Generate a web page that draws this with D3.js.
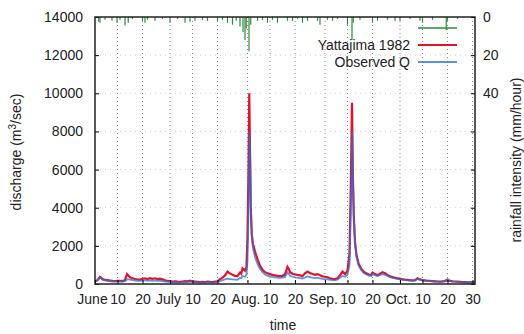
<!DOCTYPE html>
<html>
  <head>
    <meta charset="utf-8" />
    <title>Yattajima 1982</title>
    <script src="https://d3js.org/d3.v7.min.js"></script>
    <style>
      body { margin: 0; background: #fff; }
      text { font-family: "Liberation Sans", Arial, sans-serif; fill: #222; }
    </style>
  </head>
  <body>
    <svg id="chart" width="524" height="334"></svg>
    <script>

        // day offsets are counted from June 1, 1982
        var simDays = [0,1,2,2.5,3,4,5,6,7,8,9,10,11,12,12.8,13.5,14,15,16,17,18,19,20,21,22,23,24,25,26,27,28,29,30,31,32,33,34,35,36,37,38,39,40,41,42,43,44,45,46,47,48,49,50,51,52,53,54,55,56,57,58,58.5,59,60,60.6,61,61.4,61.7,62,62.3,62.7,63.2,64,65,66,67,68,69,70,71,72,73,74,75,76,77,77.6,78,79,80,81,82,83,84,85,86,87,88,89,90,91,92,93,94,95,96,97,98,99,100,101,101.8,102.3,102.8,103.1,103.5,104,104.6,105.5,106.5,107.5,108.5,109.5,110.5,111,112,113,114,115,116,117,118,119,120,121,122,123,124,125,126,127,128,129,130,131,132,133,134,135,136,137,138,139,140,141,142,143,144,145,146,147,148,149,150,151,152];
        var simQ = [150,200,380,330,260,220,200,180,160,150,170,160,150,200,520,420,350,300,260,240,230,270,300,260,310,270,300,260,280,240,200,160,150,130,140,120,110,130,150,140,170,130,120,110,100,110,100,130,110,100,120,140,260,330,450,650,560,480,430,420,600,540,820,700,900,2500,6000,10000,7000,4000,2600,2100,1700,1300,950,750,620,560,520,480,450,430,420,430,500,900,780,620,540,500,480,450,420,560,650,580,520,480,520,460,400,380,350,300,270,260,300,450,650,520,700,1600,5000,9500,6000,3600,2200,1500,1050,800,650,560,500,480,600,520,460,540,620,560,470,400,360,330,300,270,250,230,220,200,190,200,300,240,210,190,170,160,150,140,130,120,140,150,200,160,140,130,120,110,100,100,90,90,100,90];

        var obsDays = [0,1,2,2.5,3,4,5,6,7,8,9,10,11,12,13,14,15,16,17,18,19,20,21,22,23,24,25,26,27,28,29,30,31,32,33,34,35,36,37,38,39,40,41,42,43,44,45,46,47,48,49,50,51,52,53,54,55,56,57,58,58.5,59,60,60.6,61,61.4,61.8,62.1,62.4,62.8,63.3,64,65,66,67,68,69,70,71,72,73,74,75,76,77,77.6,78,79,80,81,82,83,84,85,86,87,88,89,90,91,92,93,94,95,96,97,98,99,100,101,101.8,102.4,102.9,103.2,103.6,104.1,104.7,105.5,106.5,107.5,108.5,109.5,110.5,111,112,113,114,115,116,117,118,119,120,121,122,123,124,125,126,127,128,129,130,131,132,133,134,135,136,137,138,139,140,141,142,143,144,145,146,147,148,149,150,151,152];
        var obsQ = [150,180,350,300,220,190,170,150,130,120,140,130,120,150,250,230,200,180,170,160,180,200,170,190,170,190,160,170,150,130,120,110,100,100,90,90,100,110,100,120,100,90,80,80,90,80,100,90,80,90,100,150,200,240,280,260,240,230,220,320,300,420,380,500,1200,4000,8000,6500,3800,2300,1800,1400,1050,800,620,500,440,400,370,350,330,320,330,370,600,520,430,380,350,330,310,290,340,400,360,330,310,330,300,270,250,240,220,200,200,230,330,420,380,480,1000,4200,8000,5600,3300,2000,1350,950,720,580,500,440,420,520,460,420,480,520,480,420,360,320,290,260,240,220,200,190,180,170,180,260,210,190,170,160,150,140,130,120,110,130,180,260,170,140,120,110,100,90,90,80,80,90,80];

        var rainDays = [1.5,2,4,6.8,8.8,10,12,13.3,15,19,20,21,24,27,30,33,36,38,40,43,45,49,51,53,55,56.5,58,59.2,60,60.5,61.6,62.3,65,67,69,71,73,77,79,81,83,85,89,90,93,95,97,101,102.8,103.3,106,111,113,117,120,122,126,130,131,135,140.5,141,145];
        var rainMm = [2.5,3,1.5,2,3,1.5,4.5,3,1,2,3,1.5,2,1,3,1,3,2.5,2,1.5,2,2,1.5,3,4,2,5,8,12,6,18,4,2,1.5,3,1.5,3,2,2,1,3,2,2,4,1.5,2,1,4,12,3,1.5,3,2,1.5,2,2,1,2,3,1.5,7,2,1];

        var qTicks = [0,2000,4000,6000,8000,10000,12000,14000];
        var rainTicks = [0,20,40,60,80,100,120,140];
        var rainLabels = [0,20,40];
        var timeTicks = [[5,1],[5,10],[5,20],[6,1],[6,10],[6,20],[7,1],[7,10],[7,20],[8,1],[8,10],[8,20],[9,1],[9,10],[9,20],[9,30]];
        var timeLabels = ["June","10","20","July","10","20","Aug.","10","20","Sep.","10","20","Oct.","10","20","30"];

        var legendNames = ["", "Yattajima 1982", "Observed Q"];
        var legendColors = ["#2e8b3a", "#e3122a", "#2a6fd6"];

        var plotLeft = 95, plotRight = 475, plotTop = 17, plotBottom = 284;
        var t0 = new Date(1982, 5, 1);
        function dayToDate(d) { return new Date(t0.getTime() + d * 86400000); }

        var svg = d3.select("#chart");

        var x = d3.scaleTime()
            .domain([t0, dayToDate(152)])
            .range([plotLeft, plotRight]);
        var y = d3.scaleLinear().domain([0, 14000]).range([plotBottom, plotTop]);
        var y2 = d3.scaleLinear().domain([0, 140]).range([plotTop, plotBottom]);

        var tickDates = timeTicks.map(function(t) { return new Date(1982, t[0], t[1]); });

        // grid
        svg.append("g").selectAll("line")
          .data(tickDates.slice(1))
          .enter().append("line")
            .attr("x1", function(d) { return x(d); })
            .attr("x2", function(d) { return x(d); })
            .attr("y1", plotTop).attr("y2", plotBottom)
            .attr("stroke", "#888")
            .attr("stroke-dasharray", "1,3");
        svg.append("g").selectAll("line")
          .data(qTicks.slice(1, -1))
          .enter().append("line")
            .attr("x1", plotLeft).attr("x2", plotRight)
            .attr("y1", function(d) { return y(d); })
            .attr("y2", function(d) { return y(d); })
            .attr("stroke", "#ccc")
            .attr("stroke-dasharray", "1,4");

        // rainfall impulses hanging from the top
        svg.append("g").selectAll("line")
          .data(rainDays)
          .enter().append("line")
            .attr("x1", function(d) { return x(dayToDate(d)); })
            .attr("x2", function(d) { return x(dayToDate(d)); })
            .attr("y1", y2(0))
            .attr("y2", function(d, i) { return y2(rainMm[i]); })
            .attr("stroke", legendColors[0])
            .attr("stroke-width", 1.2);

        var line = d3.line()
            .x(function(d) { return x(dayToDate(d[0])); })
            .y(function(d) { return y(d[1]); });

        svg.append("path")
            .datum(d3.zip(simDays, simQ))
            .attr("d", line)
            .attr("fill", "none")
            .attr("stroke", legendColors[1])
            .attr("stroke-width", 2.2);

        svg.append("path")
            .datum(d3.zip(obsDays, obsQ))
            .attr("d", line)
            .attr("fill", "none")
            .attr("stroke", legendColors[2])
            .attr("stroke-opacity", 0.75)
            .attr("stroke-width", 1.8);

        // axes
        svg.append("g")
            .attr("transform", "translate(" + plotLeft + ",0)")
            .call(d3.axisLeft(y).tickValues(qTicks).tickFormat(d3.format("d"))
                .tickSizeInner(-4).tickSizeOuter(0).tickPadding(12))
            .call(function(g) { g.select(".domain").remove(); })
            .selectAll("text").style("font-size", "14px");

        svg.append("g")
            .attr("transform", "translate(" + plotRight + ",0)")
            .call(d3.axisRight(y2).tickValues(rainTicks).tickSizeInner(-4).tickSizeOuter(0).tickPadding(8)
                .tickFormat(function(d) { return rainLabels.indexOf(d) >= 0 ? d : ""; }))
            .call(function(g) { g.select(".domain").remove(); })
            .selectAll("text").style("font-size", "14px");

        svg.append("g")
            .attr("transform", "translate(0," + plotBottom + ")")
            .call(d3.axisBottom(x).tickValues(tickDates).tickSizeInner(-4).tickSizeOuter(0).tickPadding(10)
                .tickFormat(function(d, i) { return timeLabels[i]; }))
            .call(function(g) { g.select(".domain").remove(); })
            .selectAll("text")
            .style("font-size", "14px")
            .attr("dx", function(d, i) { return i == 0 ? -3 : (i % 3 == 0 && i < 15 ? -2 : 0); });

        svg.append("rect")
            .attr("x", plotLeft).attr("y", plotTop)
            .attr("width", plotRight - plotLeft).attr("height", plotBottom - plotTop)
            .attr("fill", "none")
            .attr("stroke", "#222")
            .attr("stroke-width", 1.5);

        // legend
        var legend = svg.append("g").selectAll("g")
          .data(legendNames)
          .enter().append("g")
            .attr("transform", function(d, i) { return "translate(0," + (28 + i * 17) + ")"; });
        legend.append("line")
            .attr("x1", 418).attr("x2", 457)
            .attr("stroke", function(d, i) { return legendColors[i]; })
            .attr("stroke-width", function(d, i) { return i == 1 ? 2 : 1.3; });
        legend.append("text")
            .attr("x", 410).attr("dy", "0.35em")
            .attr("text-anchor", "end")
            .style("font-size", "14px")
            .text(function(d) { return d; });

        // axis titles
        svg.append("text")
            .attr("transform", "translate(16,152) rotate(-90)")
            .attr("text-anchor", "middle").attr("dy", "0.35em")
            .style("font-size", "14px")
            .html("discharge (m<tspan dy='-5' font-size='10px'>3</tspan><tspan dy='5'>/sec)</tspan>");

        svg.append("text")
            .attr("transform", "translate(516,160) rotate(-90)")
            .attr("text-anchor", "middle").attr("dy", "0.35em")
            .style("font-size", "14px")
            .text("rainfall intensity (mm/hour)");

        svg.append("text")
            .attr("x", 283).attr("y", 325)
            .attr("text-anchor", "middle").attr("dy", "0.35em")
            .style("font-size", "14px")
            .text("time");

    </script>
  </body>
</html>
